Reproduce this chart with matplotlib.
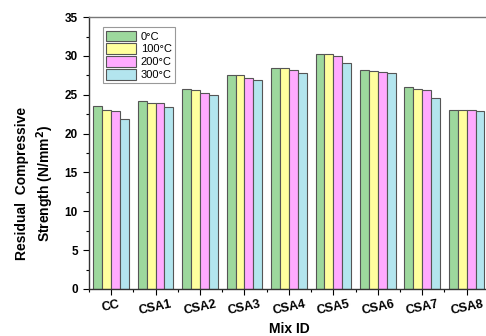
import matplotlib
matplotlib.use("Agg")
import matplotlib.pyplot as plt
import numpy as np
from matplotlib.ticker import MultipleLocator

plt.rcParams['font.family'] = ['Liberation Sans', 'DejaVu Sans']

mixes = ["CC", "CSA1", "CSA2", "CSA3", "CSA4", "CSA5", "CSA6", "CSA7", "CSA8"]
temps = ["0°C", "100°C", "200°C", "300°C"]
t0 = [23.6, 24.2, 25.8, 27.6, 28.4, 30.2, 28.2, 26.0, 23.1]
t100 = [23.1, 24.0, 25.6, 27.5, 28.4, 30.2, 28.1, 25.8, 23.0]
t200 = [22.9, 24.0, 25.2, 27.2, 28.2, 30.0, 28.0, 25.6, 23.0]
t300 = [21.9, 23.4, 25.0, 26.9, 27.8, 29.1, 27.8, 24.6, 22.9]
series = [t0, t100, t200, t300]
colors = ["#9dd89d", "#ffff9e", "#ffaaff", "#b3e5ee"]

fig = plt.figure(figsize=(4.86, 3.36), dpi=100)
ax = fig.add_axes([0.183, 0.140, 0.823, 0.809])

x = np.arange(len(mixes))
w = 0.2
for i, (vals, c, lab) in enumerate(zip(series, colors, temps)):
    ax.bar(x + (i - 1.5) * w, vals, width=w, color=c, edgecolor="#555555",
           linewidth=0.8, label=lab)

ax.set_xlim(-0.5, 8.5)
ax.set_ylim(0, 35)
ax.yaxis.set_major_locator(MultipleLocator(5))
ax.yaxis.set_minor_locator(MultipleLocator(2.5))
ax.set_xticks(x)
ax.set_xticks(np.arange(-0.5, 9, 1), minor=True)
ax.set_xticklabels(mixes, rotation=12, fontsize=9, fontweight="bold")
for lbl in ax.get_yticklabels():
    lbl.set_fontweight("bold")
    lbl.set_fontsize(8.5)
ax.tick_params(axis="both", which="major", direction="out", length=4.5, width=0.8)
ax.tick_params(axis="both", which="minor", direction="out", length=2.5, width=0.8)
ax.tick_params(axis="x", which="major", pad=2)
ax.spines["right"].set_visible(False)
for s in ["left", "bottom", "top"]:
    ax.spines[s].set_linewidth(1.0)
    ax.spines[s].set_color("#333333")
ax.spines["top"].set_color("#777777")

ax.set_xlabel("Mix ID", fontsize=10, fontweight="bold")
ax.xaxis.set_label_coords(0.5, -0.12)
ax.set_ylabel("Residual  Compressive\nStrength (N/mm$^\\mathbf{2}$)", fontsize=10,
              fontweight="bold", linespacing=1.35)
ax.yaxis.set_label_coords(-0.083, 0.39)

leg = ax.legend(loc="upper left", bbox_to_anchor=(0.035, 0.963), fontsize=8,
                handlelength=2.7, handleheight=1.1, handletextpad=0.4,
                labelspacing=0.15, borderpad=0.3, borderaxespad=0.0,
                fancybox=False, edgecolor="#999999", framealpha=1)
leg.get_frame().set_linewidth(0.8)

fig.savefig("out.png", dpi=100)
